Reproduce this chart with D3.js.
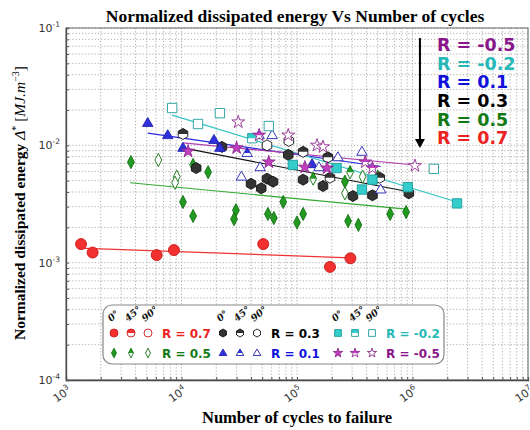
<!DOCTYPE html>
<meta charset="utf-8">
<style>
  body { margin: 0; background: #fff; }
</style>
<div id="chart"></div>
<script src="https://cdn.jsdelivr.net/npm/d3@7"></script>
<script>

// ---- data (N = cycles to failure, E = dissipated energy) ----
// angle: 0 = filled, 45 = half filled, 90 = open
var cyclesR07 = [1350, 1700, 6100, 8600, 51000, 193000, 290000];
var energyR07 = [1.44e-3, 1.22e-3, 1.16e-3, 1.28e-3, 1.44e-3, 0.92e-3, 1.09e-3];
var angleR07  = [0, 0, 0, 0, 0, 0, 0];
var fitR07    = [[1300, 1.33e-3], [290000, 1.1e-3]];

var cyclesR05 = [3650, 6300, 12600, 17000, 9100, 8800, 10300, 12600, 29600, 28500, 56000, 63000, 76000,
                 100000, 113000, 138000, 260000, 288000, 260000, 370000, 500000, 277000, 340000, 640000, 880000];
var energyR05 = [7.2e-3, 7.5e-3, 6.8e-3, 5.9e-3, 5.4e-3, 4.8e-3, 3.29e-3, 2.5e-3, 2.8e-3, 2.35e-3, 2.6e-3, 2.4e-3, 3.29e-3,
                 2.2e-3, 2.6e-3, 5.2e-3, 4.9e-3, 5.9e-3, 3.9e-3, 5.4e-3, 5.4e-3, 2.26e-3, 2.1e-3, 2.6e-3, 2.7e-3];
var angleR05  = [0, 90, 45, 0, 90, 90, 0, 0, 0, 0, 0, 0, 0, 0, 0, 45, 0, 45, 90, 90, 45, 0, 0, 0, 0];
var fitR05    = [[3600, 4.8e-3], [880000, 2.86e-3]];

var cyclesR03 = [10300, 22400, 13400, 40000, 49000, 55000, 62000, 55000, 85000, 84000, 113000, 185000,
                 113000, 168000, 193000, 305000, 450000, 520000, 930000];
var energyR03 = [1.25e-2, 9.7e-3, 6.4e-3, 4.7e-3, 4.3e-3, 5.2e-3, 4.9e-3, 1.0e-2, 1.09e-2, 8.3e-3, 8.8e-3, 7.9e-3,
                 5.1e-3, 4.5e-3, 5.3e-3, 3.7e-3, 3.75e-3, 5.3e-3, 3.9e-3];
var angleR03  = [45, 0, 0, 0, 0, 0, 0, 90, 90, 0, 45, 45, 0, 0, 45, 0, 0, 45, 0];
var fitR03    = [[10300, 9.5e-3], [950000, 4.0e-3]];

var cyclesR01 = [5100, 7600, 10300, 19100, 21500, 37000, 47000, 61000, 33000, 48000, 135000, 155000, 226000, 365000, 530000];
var energyR01 = [1.55e-2, 1.22e-2, 9.5e-3, 1.11e-2, 9.5e-3, 8.6e-3, 1.22e-2, 1.22e-2, 5.4e-3, 6.5e-3, 6.9e-3, 6.5e-3, 7.9e-3, 8.8e-3, 4.2e-3];
var angleR01  = [0, 0, 0, 0, 0, 45, 45, 90, 90, 90, 0, 90, 90, 90, 90];
var fitR01    = [[5100, 1.27e-2], [530000, 6.6e-3]];

var cyclesRm02 = [8300, 21500, 13900, 57000, 41000, 92000, 220000, 365000, 450000, 910000, 1530000, 2430000];
var energyRm02 = [2.08e-2, 1.88e-2, 1.52e-2, 1.46e-2, 1.15e-2, 6.8e-3, 6.4e-3, 4.2e-3, 5.1e-3, 4.4e-3, 6.3e-3, 3.2e-3];
var angleRm02  = [90, 90, 90, 90, 45, 0, 0, 0, 0, 0, 90, 0];
var fitRm02    = [[8300, 1.81e-2], [2430000, 3.29e-3]];

var cyclesRm05 = [31000, 11400, 30000, 47000, 84000, 57000, 149000, 168000, 117000, 182000, 390000, 450000, 1050000];
var energyRm05 = [1.58e-2, 8.9e-3, 9.5e-3, 1.22e-2, 1.22e-2, 7.2e-3, 1.0e-2, 9.7e-3, 6.5e-3, 6.4e-3, 7.2e-3, 6.4e-3, 6.7e-3];
var angleRm05  = [90, 0, 0, 45, 90, 0, 90, 90, 0, 0, 45, 45, 90];
var fitRm05    = [[10300, 1.05e-2], [1050000, 6.8e-3]];

var xTickValues = [1e3, 1e4, 1e5, 1e6, 1e7];
var yTickValues = [1e-4, 1e-3, 1e-2, 1e-1];
var orientations = ["0°", "45°", "90°"];
var annotationLabels = ["R = -0.5", "R = -0.2", "R = 0.1", "R = 0.3", "R = 0.5", "R = 0.7"];
var arrowCycles = 1.16e6, arrowTop = 8.2e-2, arrowBottom = 9.5e-3;

// ---- series table ----
var series = [
  {name: "R = 0.7",  N: cyclesR07,  E: energyR07,  a: angleR07,  fit: fitR07,  shape: "circle",   fill: "#f23030", stroke: "#c81818", line: "#ee3333", text: "#ee2222"},
  {name: "R = 0.5",  N: cyclesR05,  E: energyR05,  a: angleR05,  fit: fitR05,  shape: "diamond",  fill: "#229a22", stroke: "#137013", line: "#33aa33", text: "#137a13"},
  {name: "R = 0.3",  N: cyclesR03,  E: energyR03,  a: angleR03,  fit: fitR03,  shape: "hexagon",  fill: "#333333", stroke: "#111111", line: "#111111", text: "#000000"},
  {name: "R = 0.1",  N: cyclesR01,  E: energyR01,  a: angleR01,  fit: fitR01,  shape: "triangle", fill: "#3030dd", stroke: "#2020b0", line: "#2a2add", text: "#1010dd"},
  {name: "R = -0.2", N: cyclesRm02, E: energyRm02, a: angleRm02, fit: fitRm02, shape: "square",   fill: "#35cccc", stroke: "#1f9c9c", line: "#33c4c4", text: "#25b8b8"},
  {name: "R = -0.5", N: cyclesRm05, E: energyRm05, a: angleRm05, fit: fitRm05, shape: "star",     fill: "#c040c0", stroke: "#8e2a8e", line: "#b040b0", text: "#8a168a"}
];

var W = 530, H = 430;
var svg = d3.select("#chart").append("svg").attr("width", W).attr("height", H);

var x = d3.scaleLog().domain([1e3, 1e7]).range([66, 528]);
var y = d3.scaleLog().domain([1e-4, 1e-1]).range([380, 28]);

// clip for half filled markers
svg.append("defs").append("clipPath").attr("id", "topHalf")
  .append("rect").attr("x", -20).attr("y", -20).attr("width", 40).attr("height", 20);

// marker shapes, r = half size
function shapePath(shape, r) {
  var pts;
  if (shape === "circle") return d3.symbol(d3.symbolCircle, Math.PI * r * r)();
  if (shape === "star") return d3.symbol(d3.symbolStar, r * r * 1.7)();
  if (shape === "square") pts = [[-r * .85, -r * .85], [r * .85, -r * .85], [r * .85, r * .85], [-r * .85, r * .85]];
  if (shape === "diamond") pts = [[0, -r * 1.2], [r * .62, 0], [0, r * 1.2], [-r * .62, 0]];
  if (shape === "triangle") pts = [[0, -r], [r * .95, r * .62], [-r * .95, r * .62]];
  if (shape === "hexagon") pts = d3.range(6).map(function(k) {
    var t = -Math.PI / 2 + k * Math.PI / 3; return [r * Math.cos(t), r * Math.sin(t)];
  });
  return "M" + pts.join("L") + "Z";
}

function drawMarker(g, s, angle, r) {
  var d = shapePath(s.shape, r);
  g.append("path").attr("d", d).attr("fill", angle === 0 ? s.fill : "#fff");
  if (angle === 45) g.append("path").attr("d", d).attr("fill", s.fill).attr("clip-path", "url(#topHalf)");
  g.append("path").attr("d", d).attr("fill", "none").attr("stroke", s.stroke).attr("stroke-width", 0.9);
}

// grid
var grid = svg.append("g").attr("stroke", "#9a9a9a").attr("stroke-dasharray", "1.2,2").attr("stroke-width", 0.8);
grid.selectAll(".gx").data(x.ticks()).enter().append("line")
  .attr("x1", function(d) { return x(d); }).attr("x2", function(d) { return x(d); })
  .attr("y1", y.range()[1]).attr("y2", y.range()[0]);
grid.selectAll(".gy").data(y.ticks()).enter().append("line")
  .attr("y1", function(d) { return y(d); }).attr("y2", function(d) { return y(d); })
  .attr("x1", x.range()[0]).attr("x2", x.range()[1]);

// axes frame with inward ticks
svg.append("g").attr("transform", "translate(0," + y.range()[0] + ")")
  .call(d3.axisBottom(x).tickValues(x.ticks()).tickSize(-3).tickFormat(""));
svg.append("g").attr("transform", "translate(" + x.range()[0] + ",0)")
  .call(d3.axisLeft(y).tickValues(y.ticks()).tickSize(-3).tickFormat(""));
svg.selectAll(".domain").attr("stroke", "#333").attr("stroke-width", 1.3);
svg.selectAll(".tick line").attr("stroke", "#555");
svg.append("rect").attr("x", x.range()[0]).attr("y", y.range()[1])
  .attr("width", x.range()[1] - x.range()[0]).attr("height", y.range()[0] - y.range()[1])
  .attr("fill", "none").attr("stroke", "#666").attr("stroke-width", 1);

// tick labels
svg.selectAll(".xl").data(xTickValues).enter().append("text")
  .attr("transform", function(d) { return "translate(" + (x(d) + 6) + "," + (y.range()[0] + 12) + ") rotate(-35)"; })
  .attr("text-anchor", "end").attr("font-family", "DejaVu Sans").attr("font-size", 11).attr("fill", "#333")
  .each(function(d) {
    var t = d3.select(this);
    t.append("tspan").text("10");
    t.append("tspan").attr("dy", -5).attr("font-size", 7.5).text(Math.round(Math.log10(d)));
  });
svg.selectAll(".yl").data(yTickValues).enter().append("text")
  .attr("x", x.range()[0] - 6).attr("y", function(d) { return y(d) + 4; })
  .attr("text-anchor", "end").attr("font-family", "DejaVu Sans").attr("font-size", 11).attr("fill", "#333")
  .each(function(d) {
    var t = d3.select(this);
    t.append("tspan").text("10");
    t.append("tspan").attr("dy", -5).attr("font-size", 7.5).text(Math.round(Math.log10(d)));
  });

// trend lines
var line = d3.line().x(function(d) { return x(d[0]); }).y(function(d) { return y(d[1]); });
series.forEach(function(s) {
  svg.append("path").attr("d", line(s.fit)).attr("fill", "none").attr("stroke", s.line).attr("stroke-width", 1.2);
});

// markers
series.forEach(function(s) {
  s.N.forEach(function(n, i) {
    var g = svg.append("g").attr("transform", "translate(" + x(n) + "," + y(s.E[i]) + ")");
    drawMarker(g, s, s.a[i], 5.5);
  });
});

// arrow and R annotations
var ax = x(arrowCycles);
svg.append("line").attr("x1", ax).attr("x2", ax).attr("y1", y(arrowTop)).attr("y2", y(arrowBottom) - 7)
  .attr("stroke", "#000").attr("stroke-width", 2);
svg.append("path")
  .attr("d", "M" + (ax - 5) + "," + (y(arrowBottom) - 9) + "L" + (ax + 5) + "," + (y(arrowBottom) - 9) + "L" + ax + "," + y(arrowBottom) + "Z")
  .attr("fill", "#000");
var annColors = ["#8a168a", "#25b8b8", "#1010dd", "#000000", "#137a13", "#ee2222"];
svg.selectAll(".ann").data(annotationLabels).enter().append("text")
  .attr("x", ax + 17).attr("y", function(d, i) { return y(arrowTop) + 13 + i * 18.6; })
  .attr("font-family", "DejaVu Sans").attr("font-weight", "bold").attr("font-size", 17.5)
  .attr("fill", function(d, i) { return annColors[i]; })
  .text(function(d) { return d; });

// legend
var lg = svg.append("g");
lg.append("rect").attr("x", 103).attr("y", 305).attr("width", 341).attr("height", 59).attr("rx", 9)
  .attr("fill", "#fff").attr("stroke", "#888").attr("stroke-width", 1.2);
var legendOrder = [[0, 2, 4], [1, 3, 5]];
var colX = [114, 223, 338];
legendOrder.forEach(function(row, ri) {
  row.forEach(function(si, ci) {
    var s = series[si];
    [0, 45, 90].forEach(function(a, k) {
      var g = lg.append("g").attr("transform", "translate(" + (colX[ci] + k * 17) + "," + (333 + ri * 20) + ")");
      drawMarker(g, s, a, 4);
    });
    lg.append("text").attr("x", colX[ci] + 48).attr("y", 338 + ri * 20)
      .attr("font-family", "DejaVu Sans").attr("font-weight", "bold").attr("font-size", 12)
      .attr("fill", s.text).text(s.name);
  });
});
colX.forEach(function(cx) {
  orientations.forEach(function(o, k) {
    lg.append("text").attr("transform", "translate(" + (cx + k * 17 - 3) + ",322) rotate(-40)")
      .attr("font-family", "DejaVu Serif").attr("font-style", "italic").attr("font-weight", "bold")
      .attr("font-size", 9.5).attr("fill", "#111")
      .text(o);
  });
});

// titles
svg.append("text").attr("x", 295).attr("y", 22).attr("text-anchor", "middle")
  .attr("font-family", "Liberation Serif").attr("font-weight", "bold").attr("font-size", 17.5)
  .text("Normalized dissipated energy Vs Number of cycles");
svg.append("text").attr("x", 297).attr("y", 423).attr("text-anchor", "middle")
  .attr("font-family", "Liberation Serif").attr("font-weight", "bold").attr("font-size", 16.5)
  .text("Number of cycles to failure");
var yl = svg.append("text").attr("transform", "translate(25,203) rotate(-90)").attr("text-anchor", "middle")
  .attr("font-family", "Liberation Serif").attr("font-weight", "bold").attr("font-size", 15.5);
yl.append("tspan").text("Normalized dissipated energy ");
yl.append("tspan").attr("font-style", "italic").attr("font-weight", "normal").text("Δ");
yl.append("tspan").attr("dy", -6).attr("font-size", 10).attr("font-weight", "normal").text("*");
yl.append("tspan").attr("dy", 6).attr("font-weight", "normal").text(" [");
yl.append("tspan").attr("font-style", "italic").attr("font-weight", "normal").text("MJ.m");
yl.append("tspan").attr("dy", -6).attr("font-size", 10).attr("font-weight", "normal").text("−3");
yl.append("tspan").attr("dy", 6).attr("font-weight", "normal").text("]");

</script>
